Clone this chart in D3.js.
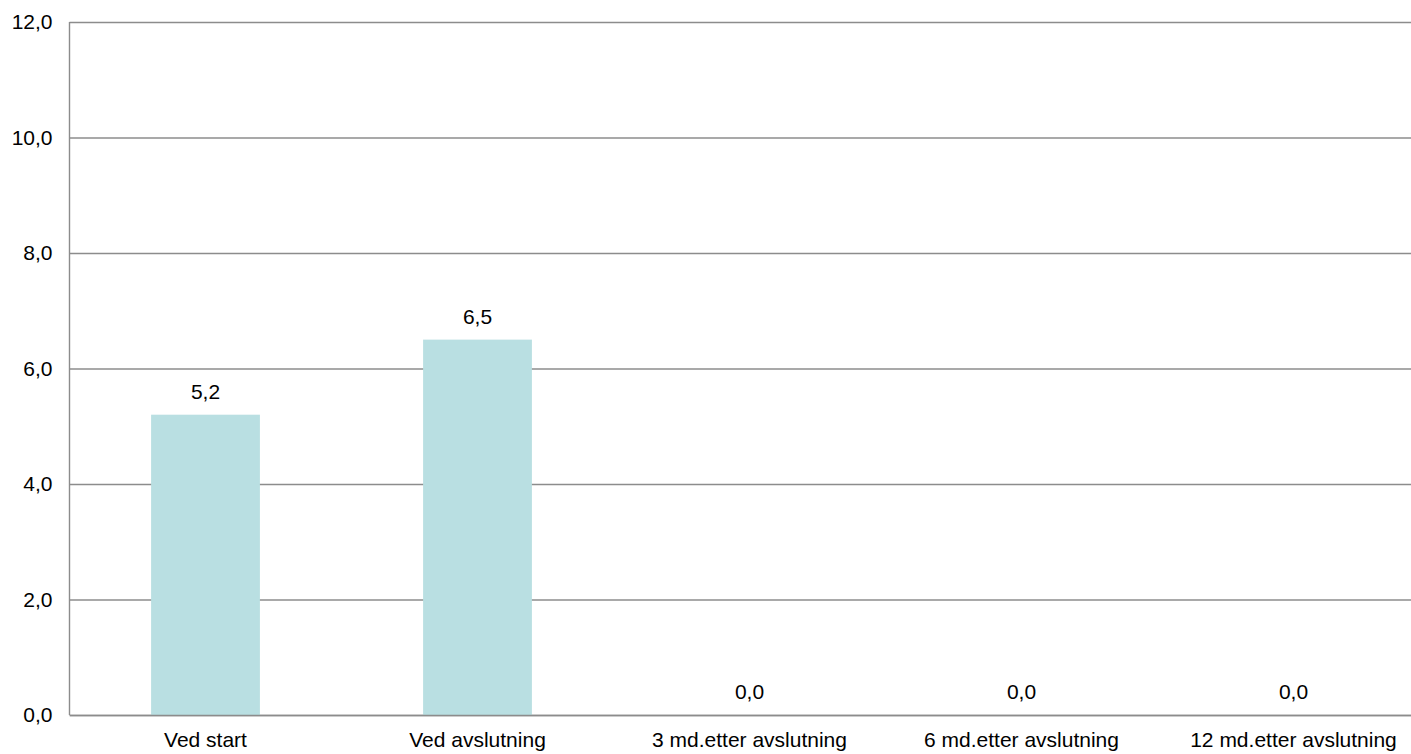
<!DOCTYPE html>
<html>
<head>
<meta charset="utf-8">
<script src="https://cdn.jsdelivr.net/npm/d3@7"></script>
<style>
  body { margin: 0; background: #fff; overflow: hidden; }
  svg { display: block; font-family: "Liberation Sans", Arial, sans-serif; }
</style>
</head>
<body>
<div id="chart"></div>
<script>
// chart data
const categories = ["Ved start", "Ved avslutning", "3 md.etter avslutning", "6 md.etter avslutning", "12 md.etter avslutning"];
const values = [5.2, 6.5, 0.0, 0.0, 0.0];
const yTicks = [0, 2, 4, 6, 8, 10, 12];

const width = 1411, height = 754;
// the plot area runs a little past the right edge of the picture, like the original
const margin = { top: 22, left: 69.5, bottom: 39 };
const chartWidth = 1360;
const chartHeight = height - margin.top - margin.bottom;
const fontSize = 21;

const fmt = v => d3.format(".1f")(v).replace(".", ",");

const svg = d3.select("#chart")
  .append("svg")
  .attr("width", width)
  .attr("height", height)
  .append("g")
  .attr("transform", `translate(${margin.left},${margin.top})`);

const x = d3.scaleBand()
  .domain(categories)
  .range([0, chartWidth])
  .paddingInner(0.6)
  .paddingOuter(0.3);

const y = d3.scaleLinear()
  .domain([0, 12])
  .range([chartHeight, 0]);

// gridlines + y axis
const yAxis = svg.append("g")
  .call(d3.axisLeft(y).tickValues(yTicks).tickSize(-chartWidth).tickFormat(fmt).tickPadding(17));
yAxis.select(".domain").remove();
yAxis.selectAll(".tick line").attr("stroke", "#8c8c8c").attr("stroke-width", 1.4);
yAxis.selectAll(".tick text").attr("fill", "#000").attr("font-size", fontSize);

// bars
svg.selectAll("rect.bar")
  .data(values)
  .join("rect")
  .attr("class", "bar")
  .attr("x", (d, i) => x(categories[i]))
  .attr("y", d => y(d))
  .attr("width", x.bandwidth())
  .attr("height", d => chartHeight - y(d))
  .attr("fill", "#b9dfe2");

// left axis line
svg.append("line")
  .attr("x1", 0).attr("x2", 0)
  .attr("y1", 0).attr("y2", chartHeight)
  .attr("stroke", "#8c8c8c").attr("stroke-width", 1.4);

// x axis
const xAxis = svg.append("g")
  .attr("transform", `translate(0,${chartHeight})`)
  .call(d3.axisBottom(x).tickSize(0).tickPadding(17));
xAxis.select(".domain").attr("stroke", "#8c8c8c").attr("stroke-width", 1.4);
xAxis.selectAll(".tick text").attr("fill", "#000").attr("font-size", fontSize);

// value labels
svg.selectAll("text.val")
  .data(values)
  .join("text")
  .attr("class", "val")
  .attr("x", (d, i) => x(categories[i]) + x.bandwidth() / 2)
  .attr("y", d => y(d) - 16)
  .attr("text-anchor", "middle")
  .attr("font-size", fontSize)
  .attr("fill", "#000")
  .text(d => fmt(d));
</script>
</body>
</html>
